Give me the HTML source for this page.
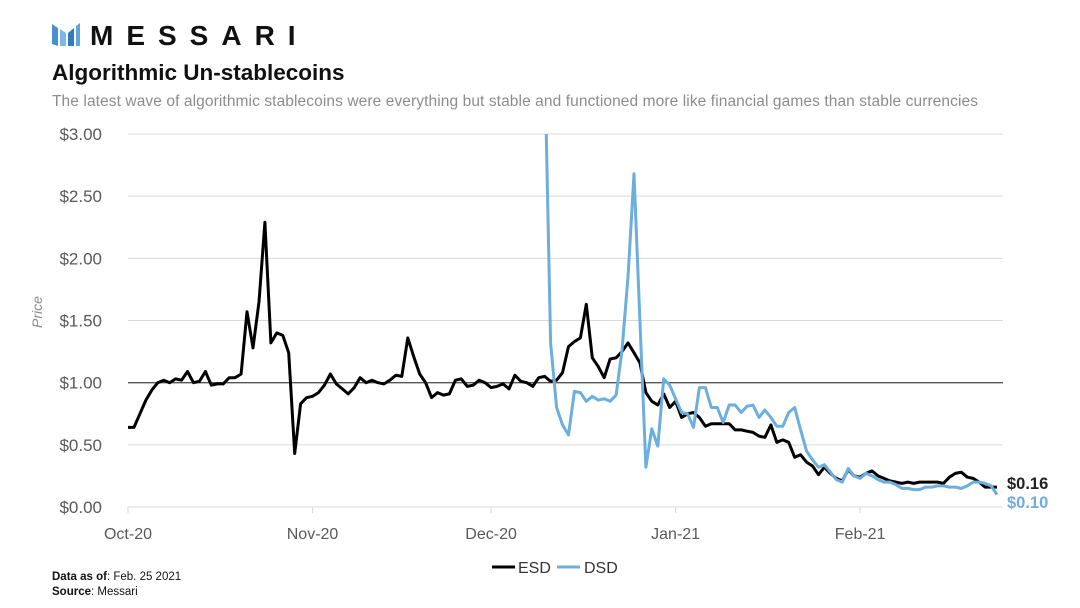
<!DOCTYPE html>
<html><head><meta charset="utf-8"><style>
body{margin:0;background:#fff;font-family:"Liberation Sans",sans-serif;}
#w{position:relative;width:1080px;height:608px;overflow:hidden;}
</style></head><body><div id="w">
<svg width="1080" height="608">
<g>
<polygon points="52,24 58,28 58,46 52,44" fill="#4a90d0"/>
<polygon points="60,29 66,33 66,46 60,46" fill="#7ab8e8"/>
<polygon points="68,33 74,28 74,46 68,46" fill="#2f7cc4"/>
<polygon points="76,26 80,23 80,46 76,46" fill="#5ea6dc"/>
<text x="90" y="45" font-size="28" font-weight="bold" letter-spacing="13" fill="#111">MESSARI</text>
</g>
<text x="52" y="80" font-size="22.5" font-weight="bold" fill="#111">Algorithmic Un-stablecoins</text>
<text x="52" y="106" font-size="15.5" fill="#8c8c8c" textLength="926">The latest wave of algorithmic stablecoins were everything but stable and functioned more like financial games than stable currencies</text>
<text transform="translate(42,312) rotate(-90)" font-size="14" font-style="italic" fill="#8c8c8c" text-anchor="middle">Price</text>
<g id="grid"></g><g id="yl"></g><g id="xl"></g>
<clipPath id="cp"><rect x="100" y="134" width="960" height="400"/></clipPath>
<g id="lines" clip-path="url(#cp)"></g>
<text x="1007" y="489" font-size="16.5" font-weight="bold" fill="#222">$0.16</text>
<text x="1007" y="508" font-size="16.5" font-weight="bold" fill="#6caedd">$0.10</text>
<g>
<g><line x1="492" y1="567" x2="515" y2="567" stroke="#000" stroke-width="3"/><text x="518" y="573" font-size="16" fill="#333">ESD</text></g>
<g><line x1="557" y1="567" x2="580" y2="567" stroke="#6caedd" stroke-width="3"/><text x="584" y="573" font-size="16" fill="#333">DSD</text></g>
</g>
<text x="52" y="580" font-size="11.5" fill="#111"><tspan font-weight="bold">Data as of</tspan>: Feb. 25 2021</text>
<text x="52" y="595" font-size="11.5" fill="#111"><tspan font-weight="bold">Source</tspan>: Messari</text>
</svg></div>
<script>
const yTicks=[0,0.5,1,1.5,2,2.5,3];
const yTickLabels=["$0.00","$0.50","$1.00","$1.50","$2.00","$2.50","$3.00"];
const monthDays=[0,31,61,92,123];
const monthLabels=["Oct-20","Nov-20","Dec-20","Jan-21","Feb-21"];
const esdStart=0;
const esdValues=[.64,.64,.75,.86,.94,1.0,1.02,1.0,1.03,1.02,1.09,1.0,1.01,1.09,.98,.99,.99,1.04,1.04,1.07,1.57,1.28,1.65,2.29,1.32,1.40,1.38,1.24,.43,.83,.88,.89,.92,.98,1.07,.99,.95,.91,.96,1.04,1.0,1.02,1.0,.99,1.02,1.06,1.05,1.36,1.21,1.07,1.0,.88,.92,.90,.91,1.02,1.03,.97,.98,1.02,1.0,.96,.97,.99,.95,1.06,1.01,1.0,.97,1.04,1.05,1.01,1.02,1.08,1.29,1.33,1.36,1.63,1.20,1.13,1.04,1.19,1.2,1.25,1.32,1.24,1.16,.92,.85,.82,.91,.80,.85,.72,.75,.76,.72,.65,.67,.67,.67,.67,.62,.62,.61,.60,.57,.56,.66,.52,.54,.52,.40,.42,.36,.33,.26,.32,.27,.23,.21,.30,.25,.24,.27,.29,.25,.23,.21,.20,.19,.20,.19,.20,.20,.20,.20,.19,.24,.27,.28,.24,.23,.20,.16,.16,.16];
const dsdStart=70;
const dsdValues=[3.6,1.32,.80,.66,.58,.93,.92,.85,.89,.86,.87,.85,.90,1.26,1.85,2.68,1.5,.32,.63,.49,1.03,.98,.87,.76,.75,.64,.96,.96,.80,.80,.68,.82,.82,.76,.81,.82,.72,.78,.72,.65,.65,.76,.80,.62,.45,.38,.32,.34,.28,.22,.20,.31,.25,.23,.27,.25,.22,.20,.20,.18,.15,.15,.14,.14,.16,.16,.17,.17,.16,.16,.15,.17,.20,.20,.19,.17,.10];
const X=d=>128+d*(1003-128)/147;
const Y=v=>507-v*(507-134)/3;
const NS="http://www.w3.org/2000/svg";
function mk(t,a,p){const e=document.createElementNS(NS,t);for(const k in a)e.setAttribute(k,a[k]);p.appendChild(e);return e;}
const grid=document.getElementById('grid'),yl=document.getElementById('yl'),xl=document.getElementById('xl'),ln=document.getElementById('lines');
yTicks.forEach((v,i)=>{
 const g=mk('line',{x1:128,x2:1003,y1:Y(v),y2:Y(v),stroke:v===1?'#555':'#d9d9d9','stroke-width':v===1?1.3:1},grid);
 
 
 const t=mk('text',{x:102,y:Y(v)+6,'text-anchor':'end','font-size':17,fill:'#595959'},yl);
 t.textContent=yTickLabels[i];
 
 
});
monthDays.forEach((d,i)=>{
 const tk=mk('line',{x1:X(d),x2:X(d),y1:507,y2:513,stroke:'#d9d9d9'},xl);
 
 
 const t=mk('text',{x:X(d),y:539,'text-anchor':'middle','font-size':16,fill:'#595959'},xl);
 t.textContent=monthLabels[i];
 
 
});
function path(start,vals){return vals.map((v,i)=>(i?'L':'M')+X(start+i).toFixed(1)+','+Y(v).toFixed(1)).join('');}
const pe=mk('path',{d:path(esdStart,esdValues),fill:'none',stroke:'#000','stroke-width':3,'stroke-linejoin':'round'},ln);


const pd=mk('path',{d:path(dsdStart,dsdValues),fill:'none',stroke:'#6caedd','stroke-width':3,'stroke-linejoin':'round'},ln);


</script></body></html>
